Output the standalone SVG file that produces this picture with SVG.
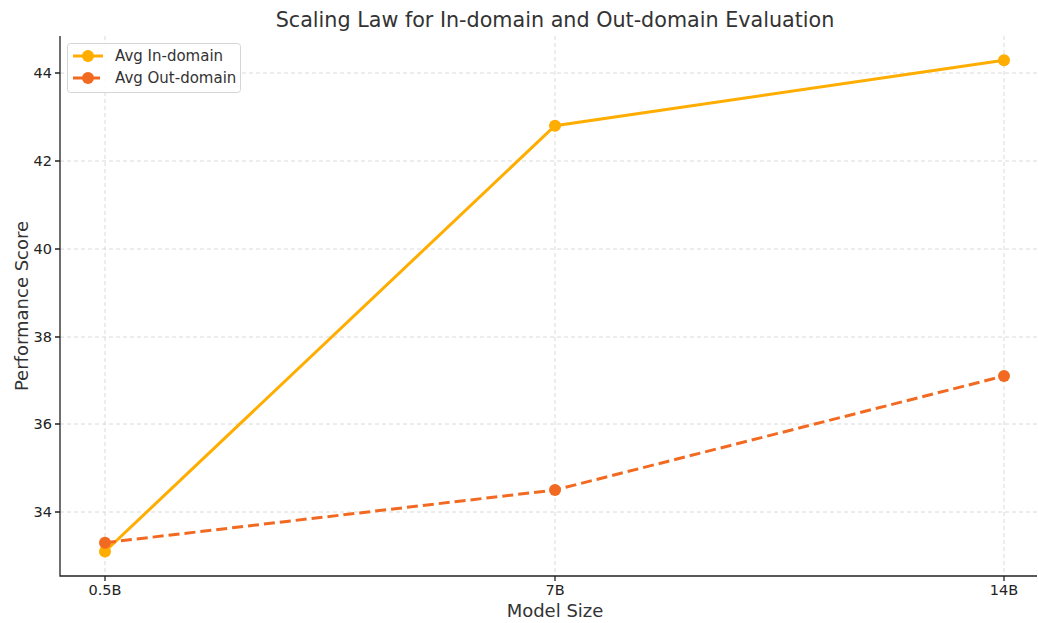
<svg xmlns="http://www.w3.org/2000/svg" width="1038" height="623" viewBox="0 0 1038 623">
<style>
text{font-family:"DejaVu Sans",sans-serif;fill:#333}
.tick{font-size:14.5px;fill:#222}
.grid{stroke:#d0d0d0;stroke-width:0.8;stroke-dasharray:4,3}
.spine{stroke:#222;stroke-width:1.3;fill:none}
.in{stroke:#FFAD00;stroke-width:3;fill:none}
.out{stroke:#F26A21;stroke-width:3;fill:none;stroke-dasharray:11,5}
</style>
<rect width="1038" height="623" fill="#fff"/>
<g id="grid">
<line class="grid" x1="105" y1="36" x2="105" y2="576"/>
<line class="grid" x1="555" y1="36" x2="555" y2="576"/>
<line class="grid" x1="1004" y1="36" x2="1004" y2="576"/>
<line class="grid" x1="60" y1="73" x2="1037" y2="73"/>
<line class="grid" x1="60" y1="161" x2="1037" y2="161"/>
<line class="grid" x1="60" y1="249" x2="1037" y2="249"/>
<line class="grid" x1="60" y1="337" x2="1037" y2="337"/>
<line class="grid" x1="60" y1="424" x2="1037" y2="424"/>
<line class="grid" x1="60" y1="512" x2="1037" y2="512"/>
</g>
<g id="axes">
<path class="spine" d="M60,36 V576 H1037"/>
<path class="spine" d="M55,73H60M55,161H60M55,249H60M55,337H60M55,424H60M55,512H60M105,576V581M555,576V581M1004,576V581"/>
<text class="tick" x="52" y="78" text-anchor="end">44</text>
<text class="tick" x="52" y="166" text-anchor="end">42</text>
<text class="tick" x="52" y="254" text-anchor="end">40</text>
<text class="tick" x="52" y="342" text-anchor="end">38</text>
<text class="tick" x="52" y="429" text-anchor="end">36</text>
<text class="tick" x="52" y="517" text-anchor="end">34</text>
<text class="tick" x="105" y="595" text-anchor="middle">0.5B</text>
<text class="tick" x="555" y="595" text-anchor="middle">7B</text>
<text class="tick" x="1004" y="595" text-anchor="middle">14B</text>
<text x="555" y="617" font-size="18" text-anchor="middle">Model Size</text>
<text transform="translate(28,306) rotate(-90)" font-size="18" text-anchor="middle">Performance Score</text>
<text x="555" y="27" font-size="20.7" text-anchor="middle">Scaling Law for In-domain and Out-domain Evaluation</text>
</g>
<g id="connectors">
<polyline class="in" points="105,551.5 555,125.7 1004,60.2"/>
<polyline class="out" points="105,542.7 555,490 1004,376"/>
</g>
<g id="series-in" fill="#FFAD00">
<circle cx="105" cy="551.5" r="6"/>
<circle cx="555" cy="125.7" r="6"/>
<circle cx="1004" cy="60.2" r="6"/>
</g>
<g id="series-out" fill="#F26A21">
<circle cx="105" cy="542.7" r="6"/>
<circle cx="555" cy="490" r="6"/>
<circle cx="1004" cy="376" r="6"/>
</g>
<g id="legend">
<rect x="67.5" y="43.5" width="173" height="49" rx="3" fill="#fff" fill-opacity="0.85" stroke="#d5d5d5"/>
<line class="in" x1="73" y1="56" x2="103" y2="56"/>
<circle cx="88" cy="56" r="6" fill="#FFAD00"/>
<line class="out" x1="73" y1="78" x2="103" y2="78" stroke-dasharray="11,5"/>
<circle cx="88" cy="78" r="6" fill="#F26A21"/>
<text x="115" y="61" font-size="15">Avg In-domain</text>
<text x="115" y="83" font-size="15">Avg Out-domain</text>
</g>
</svg>
